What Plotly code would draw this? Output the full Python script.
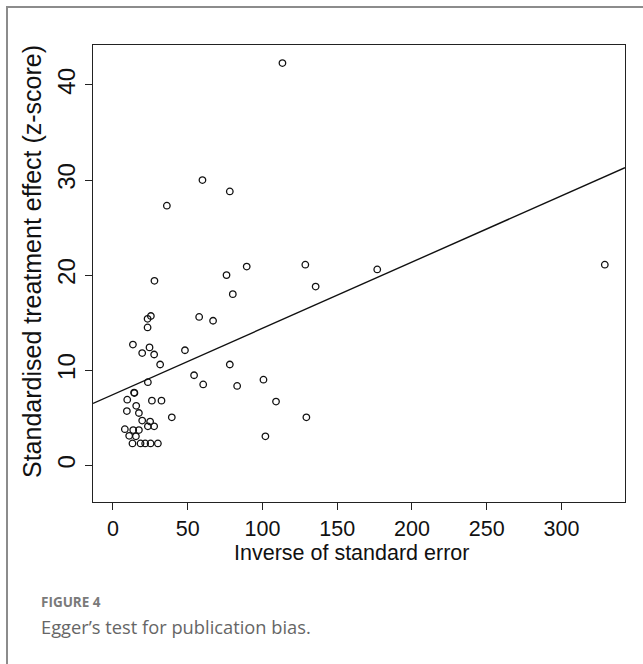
import numpy as np
import plotly.graph_objects as go

# Data (precision vs standardised effect)
inv_se = [113.4, 59.9, 78.2, 36.1, 27.8, 76.0, 89.5, 128.7, 80.2, 25.4,
          23.2, 23.2, 57.7, 67.0, 13.4, 24.5, 48.2, 176.8, 329.0, 78.2,
          60.4, 83.1, 100.7, 109.1, 129.4, 102.0, 19.6, 27.6, 31.6, 54.3,
          23.4, 14.2, 14.4, 9.6, 26.1, 32.5, 15.6, 9.35, 17.4, 39.4,
          19.6, 24.9, 23.4, 27.6, 8.0, 13.6, 17.4, 10.9, 15.4, 13.1,
          18.5, 21.6, 25.2, 30.1, 135.6]
z_score = [42.3, 30.0, 28.8, 27.3, 19.4, 20.0, 20.9, 21.1, 18.0, 15.7,
           15.4, 14.5, 15.6, 15.2, 12.7, 12.4, 12.1, 20.6, 21.1, 10.6,
           8.5, 8.35, 9.0, 6.7, 5.05, 3.05, 11.8, 11.65, 10.6, 9.47,
           8.74, 7.65, 7.6, 6.9, 6.8, 6.8, 6.25, 5.7, 5.5, 5.05,
           4.7, 4.6, 4.1, 4.1, 3.8, 3.7, 3.7, 3.1, 3.05, 2.3,
           2.3, 2.3, 2.3, 2.3, 18.8]

# Egger regression line (intercept, slope)
egger_intercept = 7.43
egger_slope = 0.0697

x_ticks = [0, 50, 100, 150, 200, 250, 300]
y_ticks = [0, 10, 20, 30, 40]
x_range = [-13.3, 342.5]
y_range = [-3.86, 44.2]

x_title = "Inverse of standard error"
y_title = "Standardised treatment effect (z-score)"
caption_label = "FIGURE 4"
caption_text = "Egger\u2019s test for publication bias."

W, H = 643, 664
L, R, T, B = 93, 18, 45, 162
pw, ph = W - L - R, H - T - B


def px2paper_x(px):
    return (px - L) / pw


def px2paper_y(py):
    return (H - B - py) / ph


x_line = np.array(x_range)
y_line = egger_intercept + egger_slope * x_line

fig = go.Figure()
fig.add_trace(go.Scatter(
    x=x_line, y=y_line, mode="lines",
    line=dict(color="#111111", width=1.4),
    showlegend=False, hoverinfo="skip"))
fig.add_trace(go.Scatter(
    x=inv_se, y=z_score, mode="markers",
    marker=dict(symbol="circle-open", size=6.5, color="#111111",
                line=dict(width=1.3, color="#111111")),
    showlegend=False))

font_family = "Liberation Sans, Arial, sans-serif"
axis_common = dict(
    showgrid=False, zeroline=False, showline=True, mirror=True,
    linecolor="#222222", linewidth=1.3,
    ticks="outside", ticklen=7, tickwidth=1.2, tickcolor="#222222",
)

fig.update_xaxes(range=x_range, tickvals=x_ticks,
                 ticktext=[str(v) for v in x_ticks],
                 tickfont=dict(family=font_family, size=21.5, color="#111111"),
                 **axis_common)
fig.update_yaxes(range=y_range, tickvals=y_ticks,
                 ticktext=[str(v) for v in y_ticks], tickangle=-90,
                 tickfont=dict(family=font_family, size=24, color="#111111"),
                 **axis_common)

annotations = [
    dict(text=x_title, xref="paper", yref="paper",
         x=px2paper_x((93 + 625) / 2 - 8), y=px2paper_y(553),
         xanchor="center", yanchor="middle", showarrow=False,
         font=dict(family=font_family, size=21.5, color="#111111")),
    dict(text=y_title, xref="paper", yref="paper",
         x=px2paper_x(32), y=px2paper_y(262),
         xanchor="center", yanchor="middle", textangle=-90, showarrow=False,
         font=dict(family=font_family, size=25, color="#111111")),
    dict(text="<b>" + caption_label + "</b>", xref="paper", yref="paper",
         x=px2paper_x(39), y=px2paper_y(602),
         xanchor="left", yanchor="middle", showarrow=False,
         font=dict(family="Open Sans, sans-serif", size=13.5, color="#7a7a7a")),
    dict(text=caption_text, xref="paper", yref="paper",
         x=px2paper_x(39), y=px2paper_y(627),
         xanchor="left", yanchor="middle", showarrow=False,
         font=dict(family="Open Sans, sans-serif", size=18.3, color="#666666")),
]

shapes = [
    dict(type="rect", xref="paper", yref="paper",
         x0=px2paper_x(7), x1=px2paper_x(665),
         y0=px2paper_y(7), y1=px2paper_y(690),
         line=dict(color="#8c8c8c", width=2), layer="below"),
]

fig.update_layout(
    width=W, height=H,
    margin=dict(l=L, r=R, t=T, b=B, pad=0),
    paper_bgcolor="white", plot_bgcolor="white",
    annotations=annotations, shapes=shapes,
    showlegend=False,
)

fig.write_html("out.html")
